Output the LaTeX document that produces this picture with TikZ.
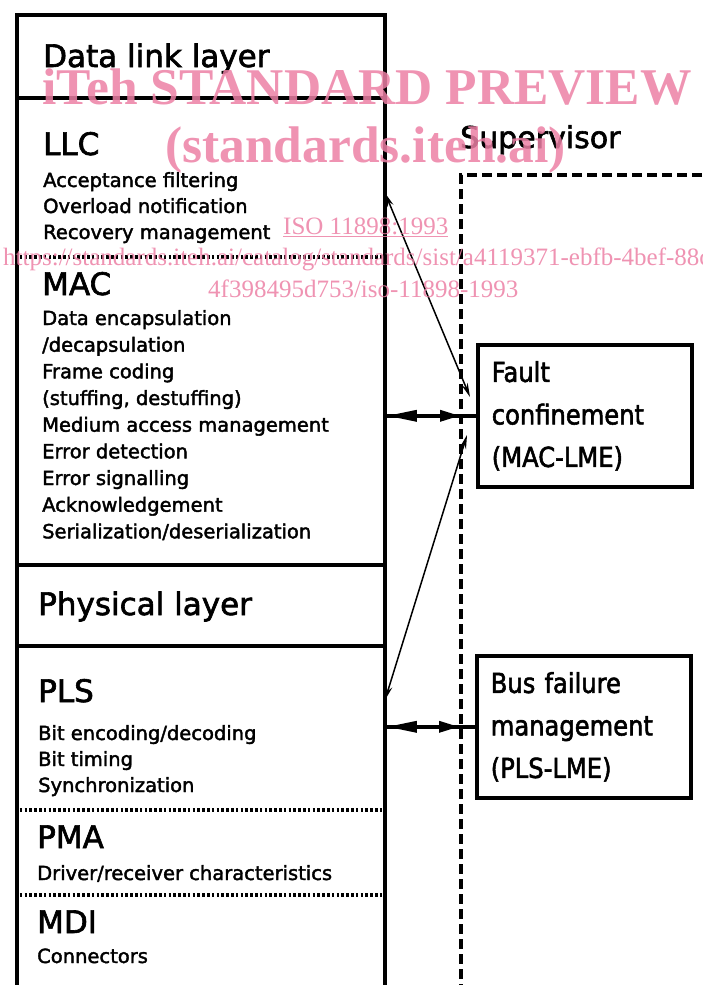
\documentclass[tikz,border=0pt]{standalone}
\usepackage{fontspec}
\setmainfont{DejaVu Sans}
\newfontfamily\isofont[FakeBold=2]{DejaVu Sans}
\newfontfamily\isonarrow[FakeBold=2,FakeStretch=0.88]{DejaVu Sans}
\newfontfamily\wmfont{Liberation Serif}
\usetikzlibrary{arrows.meta,positioning}
\definecolor{wmpink}{RGB}{236,128,165}
\begin{document}
\begin{tikzpicture}[x=1pt, y=-1pt, every node/.style={inner sep=0pt},
		head/.style={anchor=base west, font=\isofont\fontsize{31}{37}\selectfont},
		item/.style={anchor=base west, font=\isofont\fontsize{19.5}{24}\selectfont},
		lme/.style={draw, line width=3.6pt, anchor=north west, minimum width=214pt, minimum height=142pt, text width=186pt, align=left, font=\isonarrow\fontsize{27.5}{42.5}\selectfont},
		rule/.style={line width=3.4pt},
		dotrule/.style={line width=3.2pt, dash pattern=on 2.6pt off 2.2pt},
		bound/.style={line width=3.4pt, dash pattern=on 10pt off 5pt},
		bus/.style={line width=3.4pt},
		duplex/.style={line width=3.4pt, {Triangle[length=30pt,width=11pt]}-{Triangle[length=20pt,width=11pt]}, shorten >=16pt},
		probe/.style={line width=1.5pt, {Stealth[length=14pt,width=6.5pt]}-{Stealth[length=14pt,width=6.5pt]}},
		wm/.style={anchor=base west, text=wmpink, text opacity=0.85}]
	\clip (0,0) rectangle (702,985);
	\node [draw, line width=3.8pt, anchor=north west, minimum width=368pt, minimum height=1000pt] (stack) at (15,13) {};
	\draw[rule] (15,98) -- (383,98);
	\draw[dotrule] (15,257) -- (383,257);
	\draw[rule] (15,565) -- (383,565);
	\draw[rule] (15,646) -- (383,646);
	\draw[dotrule] (15,810) -- (383,810);
	\draw[dotrule] (15,895) -- (383,895);

	\node [head] (dll) at (43,67) {Data link layer};
	\node [head] (llc) at (43,155) {LLC};
	\node [item] (llca) at (43,187) {Acceptance filtering};
	\node [item] (llcb) at (43,213) {Overload notification};
	\node [item] (llcc) at (43,239) {Recovery management};
	\node [head] (mac) at (42,295) {MAC};
	\node [item] (maca) at (42,325) {Data encapsulation};
	\node [item] (macb) at (42,351.7) {/decapsulation};
	\node [item] (macc) at (42,378.3) {Frame coding};
	\node [item] (macd) at (42,405) {(stuffing, destuffing)};
	\node [item] (mace) at (42,431.7) {Medium access management};
	\node [item] (macf) at (42,458.3) {Error detection};
	\node [item] (macg) at (42,485) {Error signalling};
	\node [item] (mach) at (42,511.7) {Acknowledgement};
	\node [item] (maci) at (42,538.3) {Serialization/deserialization};
	\node [head] (phy) at (38,615) {Physical layer};
	\node [head] (pls) at (38,702) {PLS};
	\node [item] (plsa) at (38,740) {Bit encoding/decoding};
	\node [item] (plsb) at (38,766) {Bit timing};
	\node [item] (plsc) at (38,792) {Synchronization};
	\node [head] (pma) at (37,848) {PMA};
	\node [item] (pmaa) at (37,880) {Driver/receiver characteristics};
	\node [head] (mdi) at (37,933) {MDI};
	\node [item] (mdia) at (37,963) {Connectors};

	\node [head, font=\isofont\fontsize{30}{36}\selectfont] (sup) at (460,148) {Supervisor};
	\draw[bound] (702,175) -- (461,175) -- (461,990);
	\node [lme] (fault) at (476,343) {Fault\\confinement\\(MAC-LME)};
	\node [lme] (busfail) at (475,654) {Bus failure\\management\\(PLS-LME)};

	\draw[bus] (stack.east |- fault.west) -- (fault.west);
	\draw[duplex] (stack.east |- fault.west) -- (fault.west);
	\draw[bus] (stack.east |- busfail.west) -- (busfail.west);
	\draw[duplex] (stack.east |- busfail.west) -- (busfail.west);
	\coordinate (llctap) at (385,193);
	\coordinate (faultin) at (470,397);
	\coordinate (faultout) at (467,435);
	\coordinate (plstap) at (385,700);
	\draw[probe] (llctap) -- (faultin);
	\draw[probe] (faultout) -- (plstap);

	\node [wm, font=\wmfont\bfseries\fontsize{51.5}{56}\selectfont] (wmtitle) at (42,104) {iTeh STANDARD PREVIEW};
	\node [wm, font=\wmfont\bfseries\fontsize{51.5}{56}\selectfont] (wmsite) at (165,162) {(standards.iteh.ai)};
	\node [wm, font=\wmfont\fontsize{25}{30}\selectfont] (wmiso) at (283,234) {\underline{ISO 11898:1993}};
	\node [wm, font=\wmfont\fontsize{25}{30}\selectfont] (wmurl) at (3,265) {https://standards.iteh.ai/catalog/standards/sist/a4119371-ebfb-4bef-88cb-};
	\node [wm, font=\wmfont\fontsize{25}{30}\selectfont] (wmurlb) at (208,297) {4f398495d753/iso-11898-1993};
\end{tikzpicture}
\end{document}
